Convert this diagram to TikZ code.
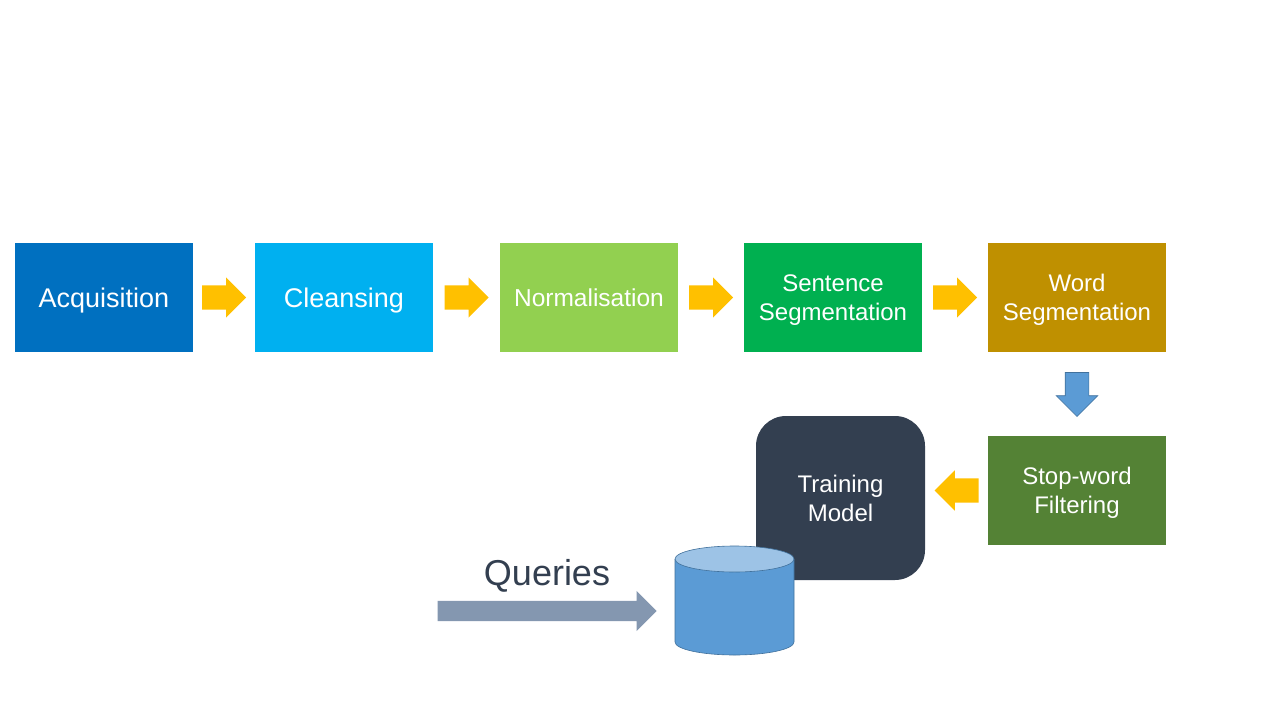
\documentclass[tikz,border=0pt]{standalone}
\usepackage{fontspec}
\setmainfont{Liberation Sans}
\usepackage{xcolor}
\usepackage{tikz}
\usetikzlibrary{shapes.arrows, positioning, calc}
\definecolor{acqblue}{HTML}{0070C0}
\definecolor{clnblue}{HTML}{00B0F0}
\definecolor{nrmgreen}{HTML}{92D050}
\definecolor{sntgreen}{HTML}{00B050}
\definecolor{wrdgold}{HTML}{BF9000}
\definecolor{stpgreen}{HTML}{548235}
\definecolor{trnslate}{HTML}{333F50}
\definecolor{dbblue}{HTML}{5B9BD5}
\definecolor{dbtop}{HTML}{9DC3E6}
\definecolor{dbedge}{HTML}{41719C}
\definecolor{flowamber}{HTML}{FFC000}
\definecolor{querygrey}{HTML}{8497B0}

\tikzset{
  stagebox/.style={minimum width=178pt, minimum height=109pt, inner sep=0pt,
    text=white, align=center, text depth=0pt, font=\fontsize{24}{29}\selectfont},
  flowarrow/.style={single arrow, fill=flowamber, draw=none, inner xsep=0pt,
    inner ysep=12pt, single arrow head extend=8pt, minimum height=44pt, anchor=tail},
}

\begin{document}
\begin{tikzpicture}[x=1pt,y=-1pt]
    % Fond blanc
    \useasboundingbox[fill=white] (0,0) rectangle (1280,720);

    % Etapes de la chaine
    \node[stagebox, fill=acqblue, font=\fontsize{27}{32}\selectfont] (acq) at (104,297.5) {Acquisition};
    \node[stagebox, fill=clnblue, font=\fontsize{27}{32}\selectfont] (cln) at (344,297.5) {Cleansing};
    \node[stagebox, fill=nrmgreen, font=\fontsize{24.5}{29}\selectfont] (nrm) at (589,297.5) {Normalisation};
    \node[stagebox, fill=sntgreen] (snt) at (833,297.5) {Sentence\\Segmentation};
    \node[stagebox, fill=wrdgold] (wrd) at (1077,297.5) {Word\\Segmentation};
    \node[stagebox, fill=stpgreen] (stp) at (1077,490.5) {Stop-word\\Filtering};

    % Modele
    \node[stagebox, fill=trnslate, rounded corners=30pt, minimum width=169pt,
      minimum height=164pt] (trn) at (840.5,498) {Training\\Model};

    % Fleches oranges
    \node[flowarrow] (f1) at ($(acq.east)!0.5!(cln.west)+(-22,0)$) {};
    \node[flowarrow] (f2) at ($(cln.east)!0.5!(nrm.west)+(-22,0)$) {};
    \node[flowarrow] (f3) at ($(nrm.east)!0.5!(snt.west)+(-22,0)$) {};
    \node[flowarrow] (f4) at ($(snt.east)!0.5!(wrd.west)+(-22,0)$) {};
    \node[flowarrow, shape border rotate=180] (f5) at ($(stp.west)+(-9,0)$) {};

    % Fleche bleue vers le bas
    \node[flowarrow, fill=dbblue, draw=dbedge, line width=0.6pt, shape border rotate=270,
      inner xsep=11.5pt, inner ysep=0pt, single arrow head extend=9pt] (f6) at ($(wrd.south)+(0,20)$) {};

    % Base de donnees
    \coordinate (db) at (675,611);
    \fill[dbblue] (675,559) -- (675,642) arc[start angle=180, end angle=0, x radius=59.5, y radius=13] -- (794,559) -- cycle;
    \draw[dbedge, line width=0.6pt] (675,559) -- (675,642) arc[start angle=180, end angle=0, x radius=59.5, y radius=13] -- (794,559);
    \filldraw[fill=dbtop, draw=dbedge, line width=0.6pt] (734.5,559) ellipse[x radius=59.5, y radius=13];

    % Requetes
    \node[single arrow, fill=querygrey, inner xsep=0pt, inner ysep=10pt,
      single arrow head extend=10pt, minimum height=219pt, left=18pt of db] (qry) {};
    \node[text=trnslate, font=\fontsize{36}{43}\selectfont] (qlbl) at (547,576) {Queries};
\end{tikzpicture}
\end{document}
